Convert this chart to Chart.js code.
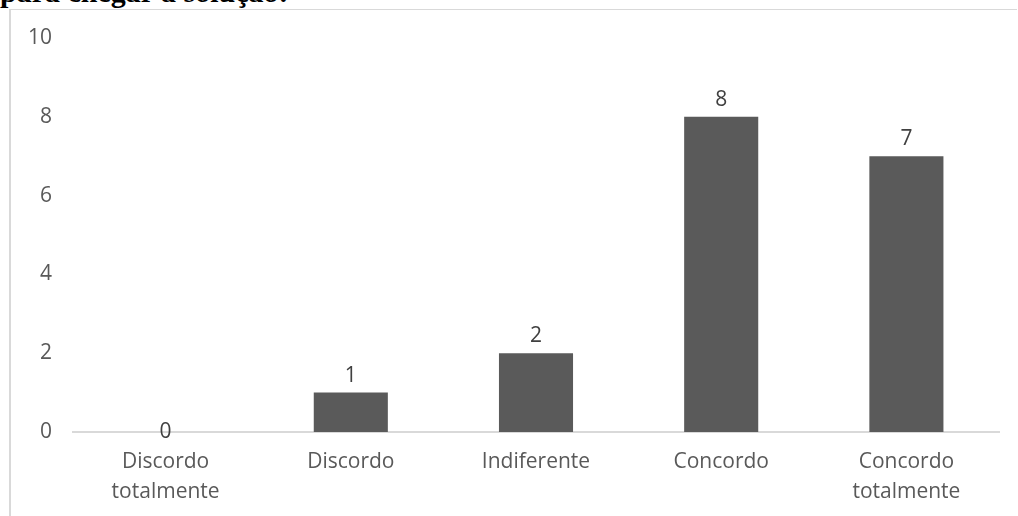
<!DOCTYPE html>
<html lang="pt">
<head>
<meta charset="utf-8">
<title>Respostas</title>
<script src="https://cdn.jsdelivr.net/npm/chart.js@4.4.1/dist/chart.umd.min.js"></script>
<style>
  html, body { margin: 0; padding: 0; background: #ffffff; }
  #wrap { position: relative; width: 1018px; height: 516px; overflow: hidden; }
  #heading {
    position: absolute; left: 0; top: -23px; margin: 0;
    font: bold 30px/30px "Liberation Serif", "Times New Roman", serif;
    color: #000000; white-space: nowrap;
  }
  #frame {
    position: absolute; left: 9px; top: 9px; width: 1008px; height: 520px;
    border-left: 2px solid #d9d9d9; border-top: 1px solid #d9d9d9;
    box-sizing: border-box;
  }
  #chart { position: absolute; left: 0; top: 0; }
</style>
</head>
<body>
<div id="wrap">
  <p id="heading">para chegar à solução:</p>
  <div id="frame"></div>
  <canvas id="chart" width="1018" height="516"></canvas>
</div>
<script>
// Survey answers and number of respondents per answer
const categories = [
  ['Discordo', 'totalmente'],
  'Discordo',
  'Indiferente',
  'Concordo',
  ['Concordo', 'totalmente']
];
const counts = [0, 1, 2, 8, 7];
const yTicks = [0, 2, 4, 6, 8, 10];

const tickFont = { family: '"Open Sans", sans-serif', size: 21, lineHeight: 1.43 };

// Writes each bar's value just above its top edge
const valueLabels = {
  id: 'valueLabels',
  afterDatasetsDraw(chart) {
    const { ctx } = chart;
    const meta = chart.getDatasetMeta(0);
    const data = chart.data.datasets[0].data;
    ctx.save();
    ctx.font = '21px "Open Sans", sans-serif';
    ctx.fillStyle = '#404040';
    ctx.textAlign = 'center';
    ctx.textBaseline = 'middle';
    meta.data.forEach((bar, i) => {
      const v = data[i];
      const lift = v > 0 ? 17 : 0;
      ctx.fillText(String(v), bar.x, bar.y - lift);
    });
    ctx.restore();
  }
};

new Chart(document.getElementById('chart'), {
  type: 'bar',
  data: {
    labels: categories,
    datasets: [{
      data: counts,
      backgroundColor: '#5a5a5a',
      borderWidth: 0,
      barPercentage: 0.4,
      categoryPercentage: 1.0
    }]
  },
  options: {
    responsive: false,
    animation: false,
    devicePixelRatio: 1,
    layout: { padding: { top: 38, right: 19, left: 0, bottom: 0 } },
    plugins: { legend: { display: false }, tooltip: { enabled: false } },
    scales: {
      x: {
        grid: { display: false, drawTicks: false },
        border: { display: true, color: '#d9d9d9', width: 2 },
        ticks: { color: '#595959', font: tickFont, padding: 15, maxRotation: 0, autoSkip: false },
        afterFit(scale) { scale.height = 84; }
      },
      y: {
        min: 0,
        max: 10,
        grid: { display: false, drawTicks: false },
        border: { display: false },
        afterBuildTicks(scale) { scale.ticks = yTicks.map(v => ({ value: v })); },
        ticks: { color: '#595959', font: tickFont, padding: 21 },
        afterFit(scale) { scale.width = 73; }
      }
    }
  },
  plugins: [valueLabels]
});
</script>
</body>
</html>
